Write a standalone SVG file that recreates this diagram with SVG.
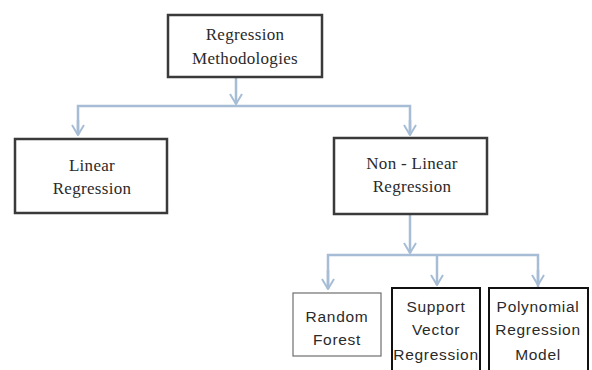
<svg xmlns="http://www.w3.org/2000/svg" width="592" height="370" viewBox="0 0 592 370">
  <defs>
    <marker id="vhead" viewBox="0 0 12 14" refX="11" refY="7" markerWidth="12" markerHeight="14" markerUnits="userSpaceOnUse" orient="auto">
      <path d="M1,1 L11,7 L1,13" fill="none" stroke="#a7bdd6" stroke-width="2"/>
    </marker>
  </defs>
  <style>
    .box { fill: #ffffff; stroke: #3a3a3a; stroke-width: 2.5; }
    .thin { fill: #ffffff; stroke: #6e6e6e; stroke-width: 1.2; }
    .bold { fill: #ffffff; stroke: #111111; stroke-width: 2; }
    .serif { font-family: "Liberation Serif", "Times New Roman", serif; font-size: 17px; fill: #2a2a2a; text-anchor: middle; letter-spacing: 0.3px; }
    .sans { font-family: "Liberation Sans", Arial, sans-serif; font-size: 15.5px; fill: #2a2a2a; text-anchor: middle; letter-spacing: 0.7px; }
    .wire { fill: none; stroke: #a7bdd6; stroke-width: 2.5; }
    .arrow { fill: none; stroke: #a7bdd6; stroke-width: 2.5; marker-end: url(#vhead); }
  </style>
  <rect width="592" height="370" fill="#ffffff"/>

  <g id="connectors">
    <!-- root to both branches -->
    <line class="arrow" x1="236" y1="78" x2="236" y2="104"/>
    <polyline class="wire" points="78,134 78,106 410,106 410,134"/>
    <line class="arrow" x1="78" y1="120" x2="78" y2="135"/>
    <line class="arrow" x1="410" y1="120" x2="410" y2="135"/>
    <!-- non-linear to its three children -->
    <line class="arrow" x1="410" y1="215" x2="410" y2="253"/>
    <polyline class="wire" points="328,288 328,255 538,255 538,288"/>
    <line class="arrow" x1="328" y1="270" x2="328" y2="289"/>
    <line class="arrow" x1="437" y1="255" x2="437" y2="285"/>
    <line class="arrow" x1="538" y1="270" x2="538" y2="285"/>
  </g>

  <g id="root">
    <rect class="box" x="168" y="15" width="154" height="62"/>
    <text class="serif" x="245" y="40">Regression</text>
    <text class="serif" x="245" y="64">Methodologies</text>
  </g>

  <g id="linear">
    <rect class="box" x="15" y="139" width="152" height="74"/>
    <text class="serif" x="92" y="171">Linear</text>
    <text class="serif" x="92" y="194">Regression</text>
  </g>

  <g id="nonlinear">
    <rect class="box" x="334" y="138" width="153" height="76"/>
    <text class="serif" x="412" y="169">Non - Linear</text>
    <text class="serif" x="412" y="192">Regression</text>
  </g>

  <g id="random-forest">
    <rect class="thin" x="293" y="293" width="88" height="63"/>
    <text class="sans" x="337" y="322">Random</text>
    <text class="sans" x="337" y="345">Forest</text>
  </g>

  <g id="svr">
    <rect class="bold" x="392" y="288" width="88" height="90"/>
    <text class="sans" x="436" y="312">Support</text>
    <text class="sans" x="436" y="335">Vector</text>
    <text class="sans" x="436" y="360">Regression</text>
  </g>

  <g id="polynomial">
    <rect class="bold" x="489" y="288" width="99" height="90"/>
    <text class="sans" x="538" y="312">Polynomial</text>
    <text class="sans" x="538" y="335">Regression</text>
    <text class="sans" x="538" y="360">Model</text>
  </g>
</svg>
